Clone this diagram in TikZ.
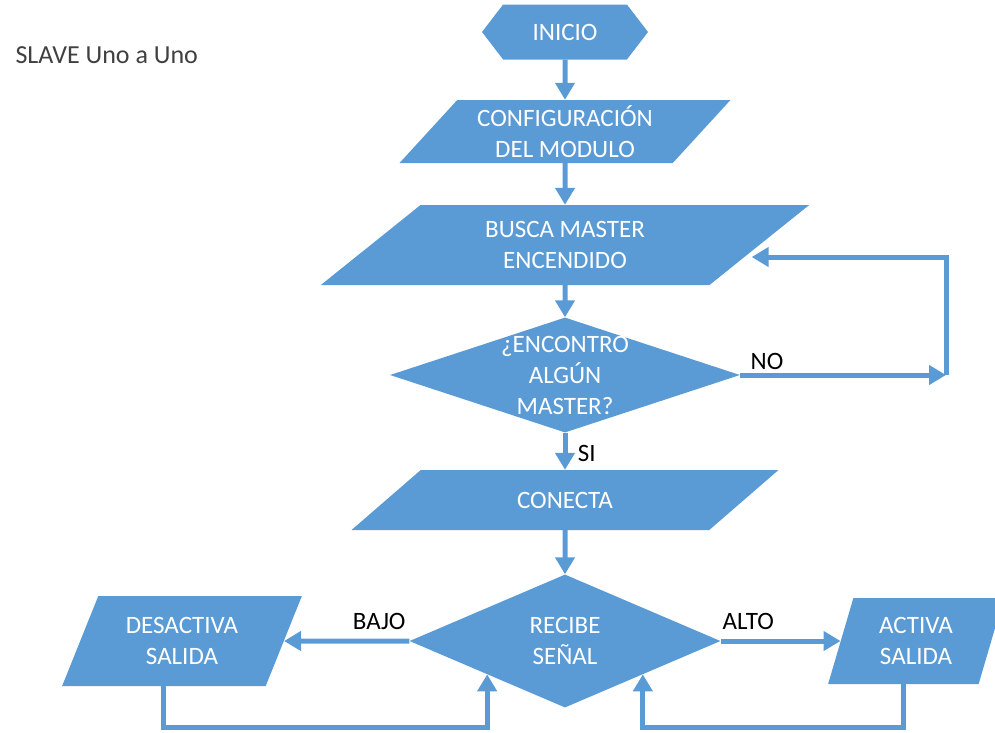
\documentclass[tikz,border=0pt]{standalone}
\usepackage{fontspec}
\setmainfont{Carlito}
\usetikzlibrary{shapes.geometric,shapes.symbols,arrows.meta}
\definecolor{azul}{RGB}{91,155,213}
\begin{document}
\begin{tikzpicture}
	[x=1pt,y=-1pt,
	terminal/.style={signal,signal to=east and west,signal pointer angle=105,fill=azul,text=white,inner sep=0pt,font=\fontsize{25}{31}\selectfont},
	datos/.style={trapezium,trapezium stretches=true,fill=azul,text=white,inner sep=0pt,align=center,font=\fontsize{25}{31}\selectfont},
	decision/.style={diamond,fill=azul,inner sep=0pt},
	texto/.style={text=white,align=center,font=\fontsize{25}{31}\selectfont},
	etiqueta/.style={text=black,font=\fontsize{25}{31}\selectfont},
	flecha/.style={->,draw=azul,line width=5pt},
	>={Triangle[length=17pt,width=19pt]}]
	\useasboundingbox (0,0) rectangle (995,732);
	\node[anchor=west,text=black!75,font=\fontsize{26}{31}\selectfont,name=titulo] at (12,55) {SLAVE Uno a Uno};
	% columna principal
	\node[terminal,minimum width=166pt,minimum height=55pt,name=inicio] at (565,32) {INICIO};
	\node[datos,trapezium left angle=47.9,trapezium right angle=132.1,minimum width=331pt,minimum height=63pt,name=config] at (565,131.5) {CONFIGURACIÓN\\DEL MODULO};
	\node[datos,trapezium left angle=40.7,trapezium right angle=139.3,minimum width=490pt,minimum height=80pt,name=busca] at (565,245) {BUSCA MASTER\\ENCENDIDO};
	\node[decision,minimum width=350pt,minimum height=115pt,name=encontro,label={[texto]center:¿ENCONTRO\\ALGÚN\\MASTER?}] at (565,375) {};
	\node[datos,trapezium left angle=35.5,trapezium right angle=144.5,minimum width=427pt,minimum height=60pt,name=conecta] at (565,500) {CONECTA};
	\node[decision,minimum width=311pt,minimum height=133pt,name=recibe,label={[texto]center:RECIBE\\SEÑAL}] at (565,641) {};
	% salidas
	\node[datos,trapezium left angle=62.9,trapezium right angle=117.1,minimum width=240pt,minimum height=90pt,name=desactiva] at (182,641) {DESACTIVA\\SALIDA};
	\node[datos,trapezium left angle=72.6,trapezium right angle=107.4,minimum width=176pt,minimum height=86pt,name=activa] at (916,641) {ACTIVA\\SALIDA};
	\coordinate (vuelta) at (946,375);
	\coordinate (base) at (0,727);
	\draw[flecha] (inicio) -- (config);
	\draw[flecha] (config) -- (busca);
	\draw[flecha] (busca) -- (encontro);
	\draw[flecha] (encontro) -- node[etiqueta,right=7pt,pos=.55]{SI} (conecta);
	\draw[flecha] (conecta) -- (recibe);
	\draw[flecha] (encontro) -- node[etiqueta,above,pos=.13]{NO} (vuelta);
	\draw[flecha] (vuelta) |- ([xshift=-8pt,yshift=-12pt]busca.east);
	\draw[flecha] (recibe) -- node[etiqueta,above=6pt,pos=.24]{BAJO} (desactiva);
	\draw[flecha] (recibe) -- node[etiqueta,above=6pt,pos=.23]{ALTO} (activa);
	\draw[flecha] (desactiva.bottom side) -- (desactiva.bottom side |- base) -| (recibe.south west);
	\draw[flecha] (activa.bottom side) -- (activa.bottom side |- base) -| (recibe.south east);
\end{tikzpicture}
\end{document}
